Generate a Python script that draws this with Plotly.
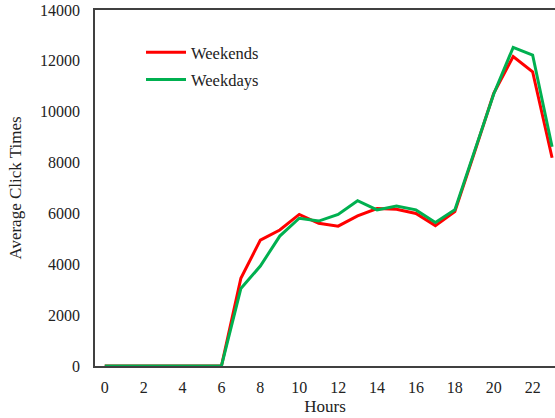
import plotly.graph_objects as go

hours = list(range(24))
weekends = [0, 0, 0, 0, 0, 0, 0, 3450, 4950, 5350, 5960, 5610, 5500, 5900, 6190, 6160, 6000, 5520, 6070, 8380, 10720, 12170, 11570, 8190]
weekdays = [0, 0, 0, 0, 0, 0, 0, 3050, 3930, 5110, 5810, 5700, 5960, 6500, 6140, 6290, 6140, 5640, 6140, 8420, 10700, 12530, 12230, 8620]
y_ticks = list(range(0, 14001, 2000))
x_ticks = list(range(0, 24, 2))

font = "Liberation Serif, Times New Roman, serif"

fig = go.Figure()
fig.add_trace(go.Scatter(x=hours, y=weekends, mode="lines", name="Weekends",
                         legendgroup="we", line=dict(color="#FF0000", width=3)))
fig.add_trace(go.Scatter(x=hours, y=weekdays, mode="lines", name="Weekdays",
                         legendgroup="wd", line=dict(color="#00B050", width=3)))

fig.update_layout(
    width=555, height=418,
    margin=dict(l=95, r=0, t=10, b=52),
    paper_bgcolor="white", plot_bgcolor="white",
    font=dict(family=font, size=16, color="#222"),
    legend=dict(x=0.1, y=0.93, xanchor="left", yanchor="top",
                bgcolor="rgba(0,0,0,0)", font=dict(size=16.5, family=font),
                tracegroupgap=3, itemwidth=40),
    showlegend=True,
)
fig.update_xaxes(range=[-0.5, 23.15], tickmode="array", tickvals=x_ticks,
                 ticktext=[str(v) for v in x_ticks],
                 showgrid=False, zeroline=False, showline=True, linecolor="#404040",
                 linewidth=1.5, mirror=True, ticks="outside", tickcolor="white", ticklen=6,
                 title=dict(text="Hours", font=dict(size=17, family=font), standoff=5))
fig.update_yaxes(range=[0, 14000], tickmode="array", tickvals=y_ticks,
                 ticktext=[str(v) for v in y_ticks],
                 showgrid=False, zeroline=False, showline=True, linecolor="#404040",
                 linewidth=1.5, ticks="outside", tickcolor="white", ticklen=10,
                 title=dict(text="Average Click Times", font=dict(size=17, family=font), standoff=14))

fig.write_html("out.html")
